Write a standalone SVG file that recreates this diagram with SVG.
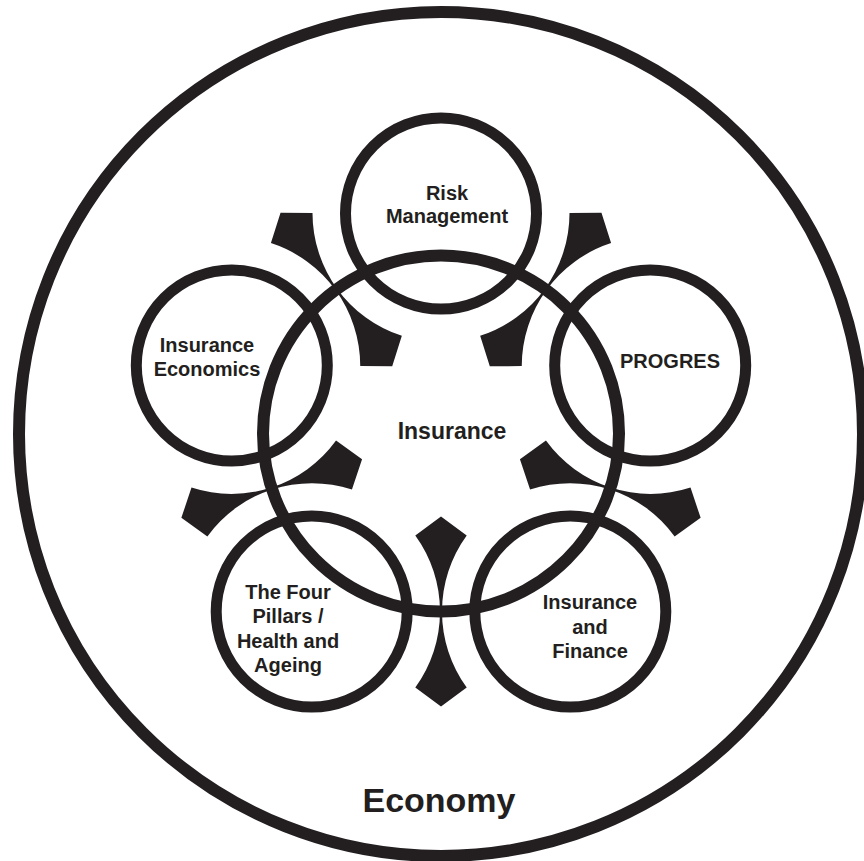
<svg xmlns="http://www.w3.org/2000/svg" xmlns:xlink="http://www.w3.org/1999/xlink" width="864" height="861" viewBox="0 0 864 861">
<style>
.ring{fill:none;stroke:#231f20}
.lbl{font-family:"Liberation Sans",Arial,Helvetica,sans-serif;font-weight:bold;fill:#231f20;text-anchor:middle}
.s{font-size:20px}
.arrow{fill:#231f20}
</style>
<defs>
<path id="arrow" d="M0,-95 L25.7,-76 A129.3,129.3 0 0 0 25.7,76 L0,95 L-25.7,76 A129.3,129.3 0 0 0 -25.7,-76 Z"/>
</defs>
<rect width="864" height="861" fill="#ffffff"/>
<g id="economy">
<circle class="ring" cx="441" cy="434" r="422" stroke-width="12"/>
<text class="lbl" x="439" y="812" font-size="34">Economy</text>
</g>
<g id="connectors" class="arrow">
<use xlink:href="#arrow" href="#arrow" transform="translate(441,433.5) rotate(36) translate(0,-178)"/>
<use xlink:href="#arrow" href="#arrow" transform="translate(441,433.5) rotate(108) translate(0,-178)"/>
<use xlink:href="#arrow" href="#arrow" transform="translate(441,433.5) rotate(180) translate(0,-178)"/>
<use xlink:href="#arrow" href="#arrow" transform="translate(441,433.5) rotate(252) translate(0,-178)"/>
<use xlink:href="#arrow" href="#arrow" transform="translate(441,433.5) rotate(324) translate(0,-178)"/>
</g>
<g id="insurance">
<circle class="ring" cx="441" cy="433.5" r="178" stroke-width="12"/>
<text class="lbl" x="452" y="439" font-size="23">Insurance</text>
</g>
<g id="risk-management">
<circle class="ring" cx="441" cy="213.5" r="95.5" stroke-width="11"/>
<text class="lbl s" x="447" y="200">Risk</text>
<text class="lbl s" x="447" y="223">Management</text>
</g>
<g id="progres">
<circle class="ring" cx="650.2" cy="365.5" r="95.5" stroke-width="11"/>
<text class="lbl s" x="670" y="368">PROGRES</text>
</g>
<g id="insurance-finance">
<circle class="ring" cx="570.3" cy="611.5" r="95.5" stroke-width="11"/>
<text class="lbl s" x="590" y="609">Insurance</text>
<text class="lbl s" x="590" y="633.5">and</text>
<text class="lbl s" x="590" y="658">Finance</text>
</g>
<g id="four-pillars">
<circle class="ring" cx="311.7" cy="611.5" r="95.5" stroke-width="11"/>
<text class="lbl s" x="288" y="599">The Four</text>
<text class="lbl s" x="288" y="623">Pillars /</text>
<text class="lbl s" x="288" y="647.5">Health and</text>
<text class="lbl s" x="288" y="672">Ageing</text>
</g>
<g id="insurance-economics">
<circle class="ring" cx="231.8" cy="365.5" r="95.5" stroke-width="11"/>
<text class="lbl s" x="207" y="351.5">Insurance</text>
<text class="lbl s" x="207" y="376">Economics</text>
</g>
</svg>
